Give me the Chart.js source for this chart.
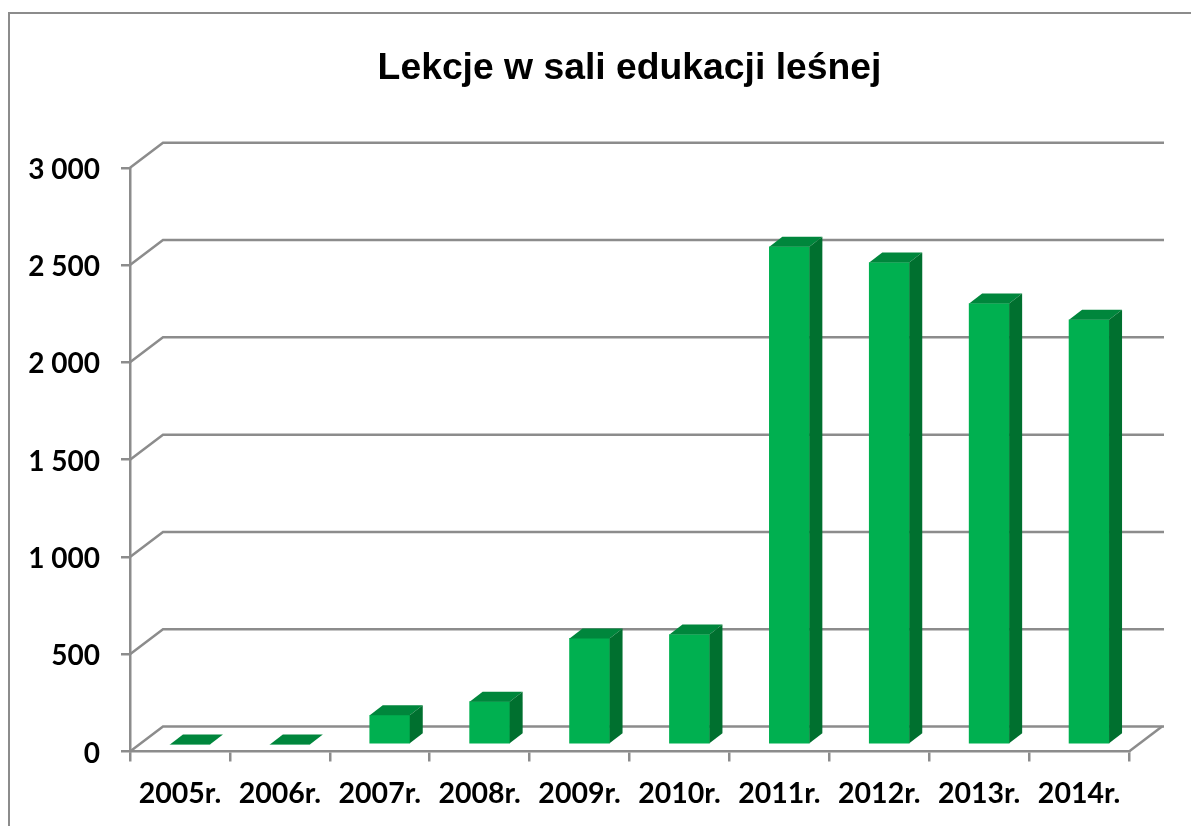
<!DOCTYPE html>
<html lang="pl">
<head>
<meta charset="utf-8">
<title>Lekcje w sali edukacji leśnej</title>
<script src="https://cdn.jsdelivr.net/npm/chart.js@4"></script>
<style>
  html, body { margin: 0; background: #fff; overflow: hidden; }
  #wrap { position: relative; width: 1191px; height: 826px; }
  #frame { position: absolute; left: 8px; top: 12px; right: 0; bottom: 0; border-left: 2px solid #8c8c8c; border-top: 2px solid #8c8c8c; }
  canvas { position: absolute; left: 0; top: 0; }
</style>
</head>
<body>
<div id="wrap">
  <div id="frame"></div>
  <canvas id="chart" width="1191" height="826"></canvas>
</div>
<script>
// Data
const years = ['2005r.', '2006r.', '2007r.', '2008r.', '2009r.', '2010r.', '2011r.', '2012r.', '2013r.', '2014r.'];
const lessons = [0, 0, 150, 220, 545, 565, 2558, 2477, 2266, 2183];
const yTickLabels = ['0', '500', '1 000', '1 500', '2 000', '2 500', '3 000'];

const lineColor = '#8c8c8c';
const frontColor = '#00b050';
const topColor = '#00863c';
const sideColor = '#00702f';

// Fake 3D: the floor and back wall sit up and to the right of the axes
const wallDx = 33;
const wallDy = -25;
// Bars stand in the middle of the floor, and have their own depth
const barShiftX = 10;
const barShiftY = -7;
const barDepthX = 13;
const barDepthY = -10;

const wallsPlugin = {
    id: 'walls',
    afterLayout(chart) {
        // centre the title over the plot, not over the whole canvas
        chart.titleBlock.left = chart.chartArea.left;
        chart.titleBlock.right = chart.chartArea.right;
    },
    beforeDatasetsDraw(chart) {
        const { ctx, scales: { x, y } } = chart;
        ctx.save();
        ctx.strokeStyle = lineColor;
        ctx.lineWidth = 2.5;
        y.ticks.forEach((tick, i) => {
            const py = y.getPixelForTick(i);
            ctx.beginPath();
            ctx.moveTo(x.left, py);
            ctx.lineTo(x.left + wallDx, py + wallDy);
            ctx.lineTo(x.right + wallDx + 2, py + wallDy);
            ctx.stroke();
        });
        // right edge of the floor
        ctx.beginPath();
        ctx.moveTo(x.right, y.bottom);
        ctx.lineTo(x.right + wallDx, y.bottom + wallDy);
        ctx.stroke();
        ctx.restore();

        // shift bars, restored in afterDatasetsDraw
        ctx.save();
        ctx.translate(barShiftX, barShiftY);
    },
    afterDatasetsDraw(chart) {
        const { ctx } = chart;
        chart.getDatasetMeta(0).data.forEach(bar => {
            const left = bar.x - bar.width / 2;
            const right = bar.x + bar.width / 2;
            // top face
            ctx.fillStyle = topColor;
            ctx.beginPath();
            ctx.moveTo(left, bar.y);
            ctx.lineTo(left + barDepthX, bar.y + barDepthY);
            ctx.lineTo(right + barDepthX, bar.y + barDepthY);
            ctx.lineTo(right, bar.y);
            ctx.closePath();
            ctx.fill();
            // side face
            if (bar.base - bar.y > 0) {
                ctx.fillStyle = sideColor;
                ctx.beginPath();
                ctx.moveTo(right, bar.y);
                ctx.lineTo(right + barDepthX, bar.y + barDepthY);
                ctx.lineTo(right + barDepthX, bar.base + barDepthY);
                ctx.lineTo(right, bar.base);
                ctx.closePath();
                ctx.fill();
            }
        });
        ctx.restore();
    }
};

new Chart(document.getElementById('chart').getContext('2d'), {
    type: 'bar',
    data: {
        labels: years,
        datasets: [{
            data: lessons,
            backgroundColor: frontColor,
            barThickness: 40
        }]
    },
    plugins: [wallsPlugin],
    options: {
        responsive: false,
        animation: false,
        layout: { padding: { left: 0, right: 62, top: 0, bottom: 0 } },
        plugins: {
            legend: { display: false },
            tooltip: { enabled: false },
            title: {
                display: true,
                text: 'Lekcje w sali edukacji leśnej',
                color: '#000',
                font: { family: '"Liberation Sans"', size: 37.3, weight: 'bold' },
                padding: { top: 46, bottom: 77 }
            }
        },
        scales: {
            x: {
                afterFit(scale) { scale.height = 74.5; },
                grid: { color: lineColor, lineWidth: 2.5, drawOnChartArea: false, tickLength: 10, offset: true },
                border: { color: lineColor, width: 2.5 },
                ticks: {
                    color: '#000',
                    padding: 15,
                    maxRotation: 0,
                    autoSkip: false,
                    font: { family: 'Lato', size: 28.5, weight: 'bold' }
                }
            },
            y: {
                min: 0,
                max: 3000,
                afterFit(scale) { scale.width = 130; },
                grid: { color: lineColor, lineWidth: 2.5, drawOnChartArea: false, tickLength: 9 },
                border: { color: lineColor, width: 2.5 },
                ticks: {
                    stepSize: 500,
                    color: '#000',
                    padding: 21,
                    labelOffset: 2,
                    font: { family: 'Lato', size: 28, weight: 'bold' },
                    callback: (value, index) => yTickLabels[index]
                }
            }
        }
    }
});
</script>
</body>
</html>
